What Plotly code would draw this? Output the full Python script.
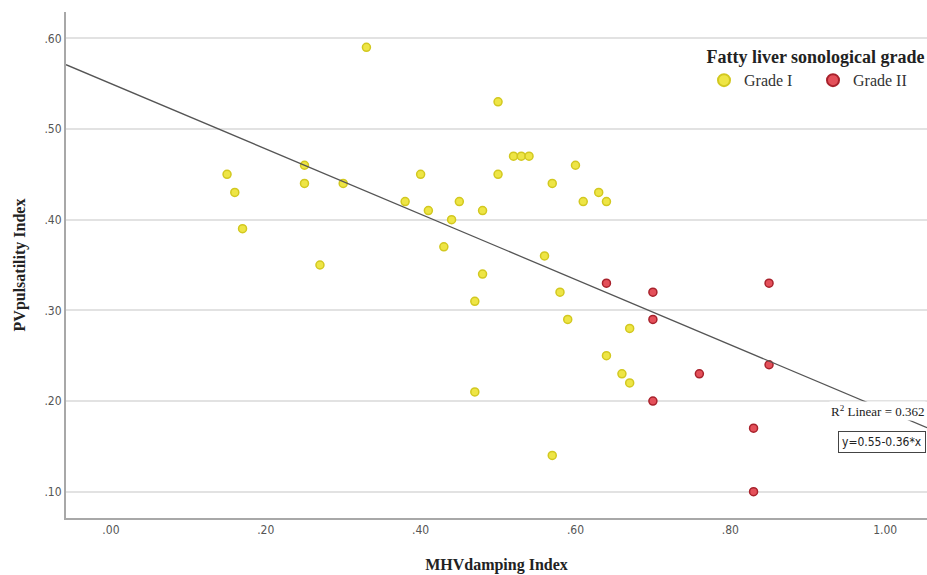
import plotly.graph_objects as go

# Grade I (yellow) points: MHV damping index, PV pulsatility index
grade1_x = [0.15, 0.16, 0.17, 0.25, 0.25, 0.30, 0.27, 0.33, 0.38, 0.40, 0.41, 0.43,
            0.44, 0.45, 0.48, 0.48, 0.47, 0.47, 0.50, 0.50, 0.52, 0.53, 0.54, 0.56,
            0.57, 0.58, 0.59, 0.57, 0.60, 0.61, 0.63, 0.64, 0.64, 0.66, 0.67, 0.67]
grade1_y = [0.45, 0.43, 0.39, 0.46, 0.44, 0.44, 0.35, 0.59, 0.42, 0.45, 0.41, 0.37,
            0.40, 0.42, 0.41, 0.34, 0.31, 0.21, 0.53, 0.45, 0.47, 0.47, 0.47, 0.36,
            0.44, 0.32, 0.29, 0.14, 0.46, 0.42, 0.43, 0.42, 0.25, 0.23, 0.28, 0.22]

# Grade II (red) points
grade2_x = [0.64, 0.70, 0.70, 0.76, 0.70, 0.85, 0.85, 0.83, 0.83]
grade2_y = [0.33, 0.32, 0.29, 0.23, 0.20, 0.33, 0.24, 0.17, 0.10]

# Fit line coefficients (y = a + b*x) and R squared
fit_a = 0.55
fit_b = -0.36
r2 = 0.362

x_range = [-0.058, 1.054]
y_range = [0.071, 0.629]

x_tickvals = [0.0, 0.2, 0.4, 0.6, 0.8, 1.0]
x_ticktext = [".00", ".20", ".40", ".60", ".80", "1.00"]
y_tickvals = [0.1, 0.2, 0.3, 0.4, 0.5, 0.6]
y_ticktext = [".10", ".20", ".30", ".40", ".50", ".60"]

serif = "Liberation Serif, Times New Roman, serif"
narrow = "Liberation Sans Narrow, DejaVu Sans Condensed, Arial Narrow, sans-serif"

fig = go.Figure()

fig.add_trace(go.Scatter(
    x=grade1_x, y=grade1_y, mode="markers", name="Grade I",
    marker=dict(size=8, color="#eee545", line=dict(color="#d2c820", width=1.5)),
))
fig.add_trace(go.Scatter(
    x=grade2_x, y=grade2_y, mode="markers", name="Grade II",
    marker=dict(size=8, color="#e4505a", line=dict(color="#a8222c", width=1.5)),
))

line_x = x_range
line_y = [fit_a + fit_b * v for v in line_x]
fig.add_trace(go.Scatter(
    x=line_x, y=line_y, mode="lines", showlegend=False, hoverinfo="skip",
    line=dict(color="#555555", width=1.3),
))

fig.add_annotation(
    x=0.928, y=0.189, xref="x", yref="y", xanchor="left", yanchor="middle",
    text="R<sup>2</sup> Linear = %.3f" % r2, showarrow=False,
    font=dict(family=serif, size=13, color="#222222"), bgcolor="white",
)
fig.add_annotation(
    x=0.939, y=0.155, xref="x", yref="y", xanchor="left", yanchor="middle",
    text="y=%.2f-%.2f*x" % (fit_a, -fit_b), showarrow=False,
    font=dict(family=narrow, size=12, color="#222222"), bgcolor="white",
    bordercolor="#444444", borderwidth=1, borderpad=3,
)

fig.update_layout(
    width=927, height=575,
    margin=dict(l=66, r=0, t=12, b=57),
    paper_bgcolor="white", plot_bgcolor="white",
    legend=dict(
        orientation="h", x=1.0, y=0.945, xanchor="right", yanchor="top",
        title=dict(text="<b>Fatty liver sonological grade</b>", side="top center",
                   font=dict(family=serif, size=18, color="#222222")),
        font=dict(family=serif, size=16, color="#333333"),
        itemsizing="constant", entrywidth=64, entrywidthmode="pixels",
        bgcolor="rgba(255,255,255,0)",
    ),
    xaxis=dict(
        range=x_range, tickvals=x_tickvals, ticktext=x_ticktext, automargin=False,
        showgrid=False, zeroline=False, showline=True, linecolor="#a8a8a8", linewidth=2,
        tickfont=dict(family=narrow, size=12, color="#555555"),
        title=dict(text="<b>MHVdamping Index</b>", font=dict(family=serif, size=16, color="#222222"), standoff=22),
    ),
    yaxis=dict(
        range=y_range, tickvals=y_tickvals, ticktext=y_ticktext, automargin=False,
        showgrid=True, gridcolor="#e2e2e2", gridwidth=2, zeroline=False,
        showline=True, linecolor="#a8a8a8", linewidth=2,
        tickfont=dict(family=narrow, size=12, color="#555555"),
        title=dict(text="<b>PVpulsatility Index</b>", font=dict(family=serif, size=16, color="#222222"), standoff=15),
    ),
)

fig.write_html(
    "out.html",
    config={"displayModeBar": False},
    post_script="document.body.style.margin='0';document.body.style.overflow='hidden';",
)
